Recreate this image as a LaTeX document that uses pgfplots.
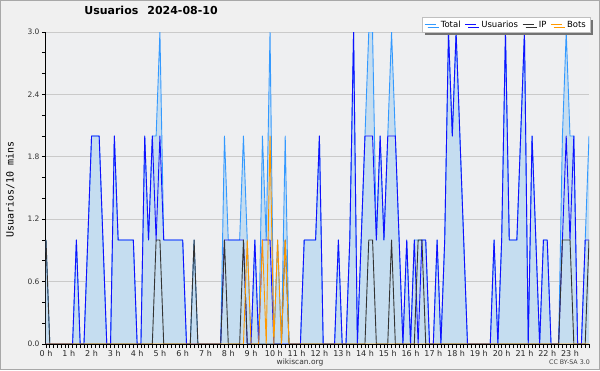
\documentclass[border=0pt]{standalone}
\usepackage{pgfplots}
\pgfplotsset{compat=1.18}
\usepackage{pgfplotstable}
\usepackage{fontspec}
\setmainfont{DejaVu Sans}
\newfontfamily\monofont{DejaVu Sans Mono}
\usetikzlibrary{shadows}

\definecolor{bgout}{HTML}{F0F0F0}
\definecolor{bgplot}{HTML}{EEEFF1}
\definecolor{framegray}{HTML}{A8A8A8}
\definecolor{gridgray}{HTML}{CACACA}
\definecolor{totalc}{HTML}{3399FF}
\definecolor{fillc}{HTML}{C5DDF0}
\definecolor{userc}{HTML}{1010FF}
\definecolor{ipc}{HTML}{333333}
\definecolor{botc}{HTML}{FF9900}

\pgfplotstableread{
i T U P B
0 1 0 1 0
1 0 0 0 0
2 0 0 0 0
3 0 0 0 0
4 0 0 0 0
5 0 0 0 0
6 0 0 0 0
7 0 0 0 0
8 1 1 0 0
9 0 0 0 0
10 0 0 0 0
11 1 1 0 0
12 2 2 0 0
13 2 2 0 0
14 2 2 0 0
15 1 1 0 0
16 0 0 0 0
17 0 0 0 0
18 2 2 0 0
19 1 1 0 0
20 1 1 0 0
21 1 1 0 0
22 1 1 0 0
23 1 1 0 0
24 0 0 0 0
25 0 0 0 0
26 2 2 0 0
27 1 1 0 0
28 2 2 0 0
29 2 1 1 0
30 3 2 1 0
31 1 1 0 0
32 1 1 0 0
33 1 1 0 0
34 1 1 0 0
35 1 1 0 0
36 1 1 0 0
37 0 0 0 0
38 0 0 0 0
39 1 0 1 0
40 0 0 0 0
41 0 0 0 0
42 0 0 0 0
43 0 0 0 0
44 0 0 0 0
45 0 0 0 0
46 0 0 0 0
47 2 1 1 0
48 1 1 0 0
49 1 1 0 0
50 1 1 0 0
51 1 1 0 0
52 2 1 1 0
53 1 0 0 1
54 0 0 0 0
55 1 1 0 0
56 0 0 0 0
57 2 1 0 1
58 1 1 0 0
59 3 1 0 2
60 0 0 0 0
61 1 0 0 1
62 0 0 0 0
63 2 0 1 1
64 0 0 0 0
65 0 0 0 0
66 0 0 0 0
67 0 0 0 0
68 1 1 0 0
69 1 1 0 0
70 1 1 0 0
71 1 1 0 0
72 2 2 0 0
73 0 0 0 0
74 0 0 0 0
75 0 0 0 0
76 0 0 0 0
77 1 1 0 0
78 0 0 0 0
79 0 0 0 0
80 1 1 0 0
81 3 3 0 0
82 0 0 0 0
83 1 1 0 0
84 2 2 0 0
85 3 2 1 0
86 3 2 1 0
87 1 1 0 0
88 2 2 0 0
89 1 1 0 0
90 2 2 0 0
91 3 2 1 0
92 2 2 0 0
93 1 1 0 0
94 0 0 0 0
95 1 1 0 0
96 0 0 0 0
97 1 1 0 0
98 1 0 1 0
99 1 1 1 0
100 1 1 0 0
101 0 0 0 0
102 0 0 0 0
103 1 1 0 0
104 0 0 0 0
105 1 1 0 0
106 3 3 0 0
107 2 2 0 0
108 3 3 0 0
109 2 2 0 0
110 1 1 0 0
111 0 0 0 0
112 0 0 0 0
113 0 0 0 0
114 0 0 0 0
115 0 0 0 0
116 0 0 0 0
117 0 0 0 0
118 1 1 0 0
119 0 0 0 0
120 1 1 0 0
121 3 3 0 0
122 1 1 0 0
123 1 1 0 0
124 1 1 0 0
125 2 2 0 0
126 3 3 0 0
127 0 0 0 0
128 2 2 0 0
129 1 1 0 0
130 0 0 0 0
131 1 1 0 0
132 1 1 0 0
133 0 0 0 0
134 0 0 0 0
135 0 0 0 0
136 2 1 1 0
137 3 2 1 0
138 2 1 1 0
139 2 2 0 0
140 0 0 0 0
141 0 0 0 0
142 1 1 0 0
143 2 1 1 0
}\data

\begin{document}
\begin{tikzpicture}[x=1pt,y=1pt]
\useasboundingbox (0,0) rectangle (600,370);
\fill[bgout] (0,0) rectangle (600,370);
\draw[framegray, line width=1pt] (0.5,0.5) rectangle (599.5,369.5);
\begin{axis}[
  at={(46pt,26pt)}, anchor=south west,
  scale only axis, width=543pt, height=312pt,
  xmin=0, xmax=143, ymin=0, ymax=3,
  axis background/.style={fill=bgplot},
  axis x line=bottom, axis y line=left,
  axis line style={-, black, line width=1pt},
  tick align=outside,
  major tick length=4pt, minor tick length=4pt,
  tick style={black, line width=0.7pt},
  xtick={0,6,...,138},
  xticklabels={0 h,1 h,2 h,3 h,4 h,5 h,6 h,7 h,8 h,9 h,10 h,11 h,12 h,13 h,14 h,15 h,16 h,17 h,18 h,19 h,20 h,21 h,22 h,23 h},
  minor xtick={0,1,...,143},
  ytick={0,0.6,1.2,1.8,2.4,3},
  minor ytick={0.2,0.4,0.8,1,1.4,1.6,2,2.2,2.6,2.8},
  y tick label style={/pgf/number format/fixed, /pgf/number format/fixed zerofill, /pgf/number format/precision=1, /pgf/number format/assume math mode=true, font=\fontsize{7.5}{9}\selectfont, color=black!80, xshift=1pt},
  x tick label style={font=\fontsize{8}{9}\selectfont, color=black!85, yshift=1pt},
  ymajorgrids, grid style={gridgray, line width=0.8pt},
  title={Usuarios\hspace{9pt}2024-08-10},
  title style={font=\bfseries\fontsize{11}{13}\selectfont, at={(axis description cs:0.1934,1.036)}, anchor=base},
  ylabel={Usuarios/10 mins},
  ylabel style={font=\monofont\fontsize{10}{12}\selectfont, at={(axis description cs:-0.066,0.495)}, anchor=center},
  legend columns=4,
  legend image code/.code={\draw[#1] (0pt,0pt) -- (11pt,0pt);},
  legend style={at={(axis description cs:1.002,1.048)}, anchor=north east,
    draw=gray!50, fill=white, font=\fontsize{8.5}{10}\selectfont,
    inner xsep=2pt, inner ysep=1.5pt,
    nodes={inner sep=2pt},
    /tikz/every odd column/.append style={column sep=2.8pt},
    /tikz/every even column/.append style={column sep=2pt},
    drop shadow={shadow xshift=3pt, shadow yshift=-3pt, fill=black!55, opacity=1}},
  every axis plot/.append style={line width=0.9pt, line join=round},
]
\addplot[draw=none, fill=fillc, forget plot] table[x=i,y=T]{\data} \closedcycle;
\addplot[totalc] table[x=i,y=T]{\data};
\addlegendentry{Total}
\addplot[userc] table[x=i,y=U]{\data};
\addlegendentry{Usuarios}
\addplot[ipc] table[x=i,y=P]{\data};
\addlegendentry{IP}
\addplot[botc] table[x=i,y=B]{\data};
\addlegendentry{Bots}
\draw[black, line width=1pt] (axis cs:0,0) -- (axis cs:143,0);
\end{axis}
\node[font=\fontsize{7.5}{9}\selectfont, color=black!80, anchor=base] at (300,6) {wikiscan.org};
\node[font=\fontsize{6.3}{8}\selectfont, color=black!75, anchor=base east, inner sep=0pt] at (590,5.5) {CC BY-SA 3.0};
\end{tikzpicture}
\end{document}
